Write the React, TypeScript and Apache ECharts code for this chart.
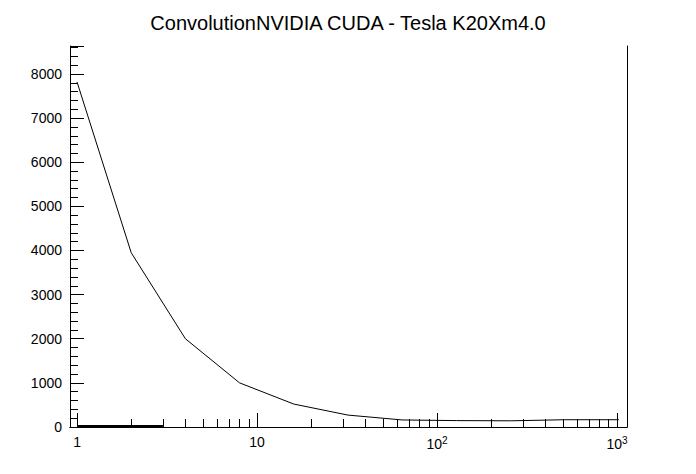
import React, { useEffect, useRef } from "react";
import * as echarts from "echarts";

const xs = [1, 2, 4, 8, 16, 32, 64, 128, 256, 512, 1024];
const ys = [7820, 3950, 2000, 1000, 520, 270, 160, 145, 140, 165, 165];
const lowXs = [1, 1.5, 2, 2.5, 3];
const lowYs = [10, 10, 10, 10, 10];
const titleText = "ConvolutionNVIDIA CUDA - Tesla K20Xm4.0";

export default function App() {
  const ref = useRef<HTMLDivElement>(null);
  useEffect(() => {
    const chart = echarts.init(ref.current!, undefined, { renderer: "svg" });
    const font = "Liberation Sans, Arial, sans-serif";
    chart.setOption({
      animation: false,
      backgroundColor: "#fff",
      title: { text: titleText, left: "center", top: 0, textStyle: { fontFamily: font, fontWeight: "normal", fontSize: 20, color: "#000" } },
      grid: { left: 62, right: 61, top: 38, bottom: 39 },
      xAxis: [
        {
          type: "log", min: 0.914, max: 1137, logBase: 10,
          axisLine: { onZero: false, lineStyle: { color: "#000" } },
          axisTick: { inside: true, length: 14, lineStyle: { color: "#000" } },
          minorTick: { show: true, splitNumber: 9, length: 8, lineStyle: { color: "#000" } },
          splitLine: { show: false },
          axisLabel: {
            fontFamily: font, fontSize: 14, color: "#000", margin: 8,
            formatter: (v: number) => {
              const e = Math.round(Math.log10(v));
              if (e === 0) return "1";
              if (e === 1) return "10";
              return "10{s|" + e + "}";
            },
            rich: { s: { fontSize: 10, verticalAlign: "top", padding: [0, 0, 8, 0], fontFamily: font } },
          },
        },
        { type: "value", position: "top", min: 0, max: 1, axisLine: { show: true, lineStyle: { color: "#000" } }, axisTick: { show: false }, axisLabel: { show: false }, splitLine: { show: false } },
      ],
      yAxis: [
        {
          type: "value", min: 0, max: 8634, interval: 1000,
          axisLine: { show: true, lineStyle: { color: "#000" } },
          axisTick: { show: true, inside: true, length: 14, lineStyle: { color: "#000" } },
          minorTick: { show: true, splitNumber: 5, length: 8, lineStyle: { color: "#000" } },
          splitLine: { show: false },
          axisLabel: { fontFamily: font, fontSize: 14, color: "#000", margin: 8, showMaxLabel: false, formatter: (v: number) => String(v) },
        },
        { type: "value", position: "right", min: 0, max: 1, axisLine: { show: true, lineStyle: { color: "#000" } }, axisTick: { show: false }, axisLabel: { show: false }, splitLine: { show: false } },
      ],
      series: [
        { type: "line", data: xs.map((x, i) => [x, ys[i]]), symbol: "none", lineStyle: { color: "#000", width: 1 } },
        { type: "line", data: lowXs.map((x, i) => [x, lowYs[i]]), symbol: "none", lineStyle: { color: "#000", width: 3 } },
      ],
    });
    return () => chart.dispose();
  }, []);
  return <div ref={ref} style={{ width: 680, height: 458 }} />;
}
